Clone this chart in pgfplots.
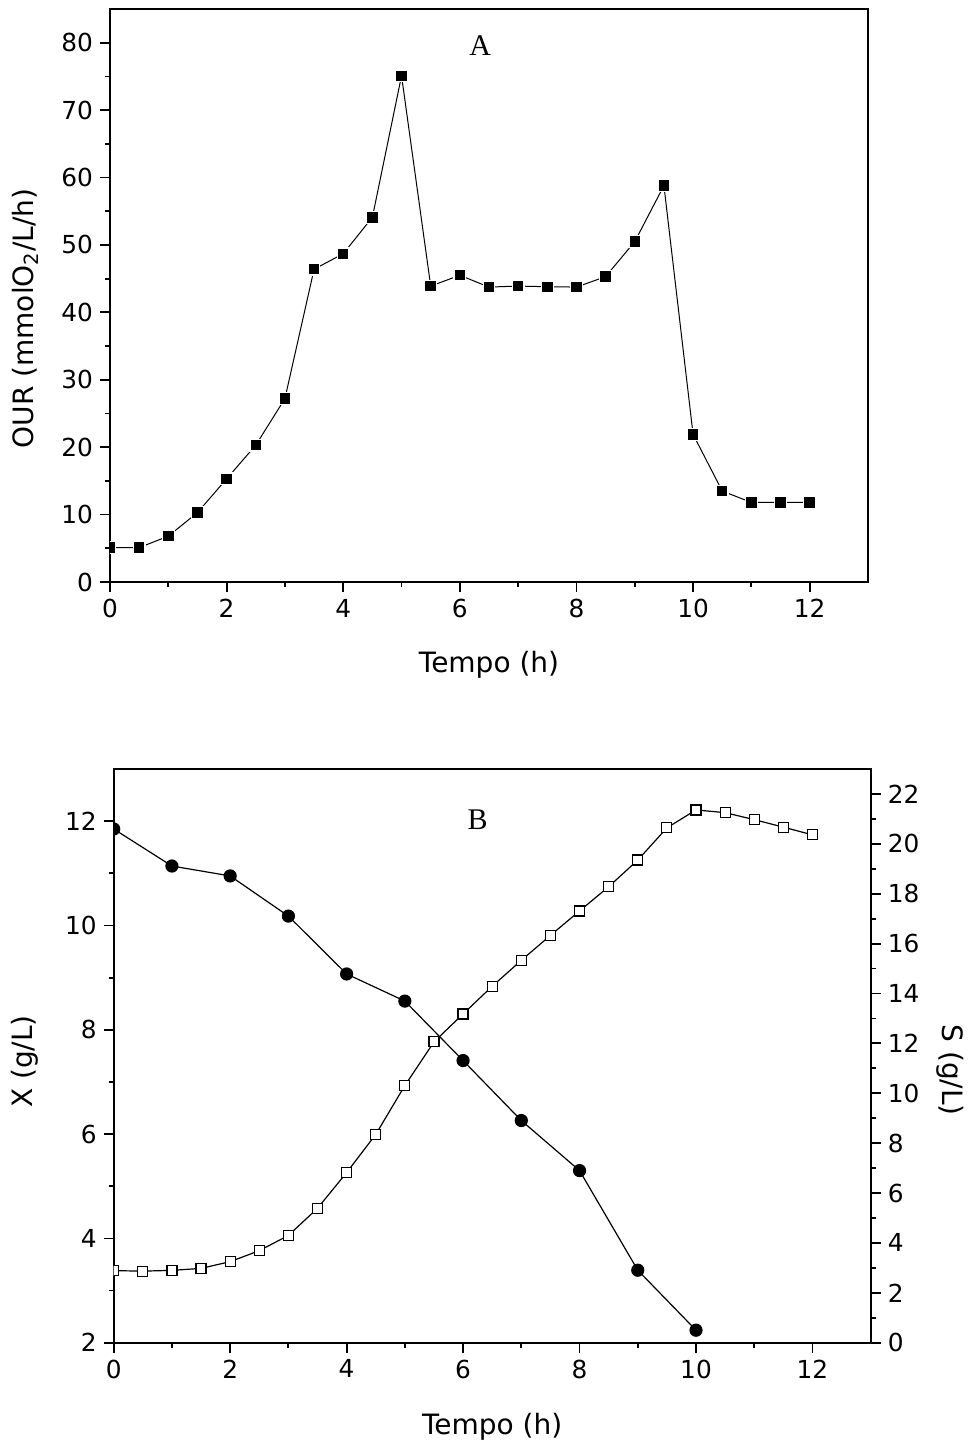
\documentclass[border=0pt]{standalone}
\usepackage{pgfplots}
\pgfplotsset{compat=1.18}
\usepackage{fontspec}
\setmainfont{DejaVu Sans}
\newfontfamily\timesf{Liberation Serif}

\pgfplotsset{
 myaxis/.style={
  scale only axis,
  xmin=0,xmax=13,
  xtick={0,2,...,12},
  minor x tick num=1,
  tick align=outside,
  major tick length=5pt, minor tick length=2.5pt,
  axis line style={line width=1pt},
  tick style={line width=0.9pt, black},
  tick label style={font=\fontsize{12.4}{14}\selectfont},
  label style={font=\fontsize{14}{16}\selectfont},
  /pgf/number format/assume math mode=true,
  clip marker paths=true,
 }
}

\begin{document}
\begin{tikzpicture}
\path[use as bounding box] (0,0) rectangle (485pt,-723pt);

% Panel A
\begin{axis}[myaxis,
  at={(55pt,-291pt)}, anchor=south west,
  width=379pt, height=286.5pt,
  ymin=0, ymax=85,
  ytick={0,10,...,80}, minor y tick num=1,
  xtick pos=lower, ytick pos=left,
  xlabel={Tempo (h)},
  ylabel={OUR (mmolO\textsubscript{2}/L/h)},
  xlabel style={at={(axis description cs:0.5,0)}, anchor=center, yshift=-41.5pt},
  ylabel style={at={(axis description cs:-0.112,0.46)}, anchor=center},
]
\addplot[black, line width=0.5pt, mark=square*, mark size=2.9pt,
  mark options={fill=black, draw=white, line width=0.6pt}] coordinates {
(0,5.1) (0.5,5.1) (1,6.8) (1.5,10.3) (2,15.3) (2.5,20.3) (3,27.2)
(3.5,46.4) (4,48.7) (4.5,54.1) (5,75.1) (5.5,43.9) (6,45.5) (6.5,43.75)
(7,43.9) (7.5,43.8) (8,43.75) (8.5,45.3) (9,50.5) (9.5,58.8) (10,21.9)
(10.5,13.5) (11,11.8) (11.5,11.8) (12,11.8)
};
\node[font=\timesf\fontsize{15}{17}\selectfont] at (axis cs:6.35,79.6) {A};
\end{axis}

% Panel B, left axis (X)
\begin{axis}[myaxis,
  at={(56.85pt,-671.35pt)}, anchor=south west,
  width=378.5pt, height=286.85pt,
  ymin=2, ymax=13,
  ytick={2,4,...,12}, minor y tick num=1,
  xtick pos=lower, ytick pos=left,
  xlabel={Tempo (h)},
  ylabel={X (g/L)},
  xlabel style={at={(axis description cs:0.5,0)}, anchor=center, yshift=-42pt},
  ylabel style={at={(axis description cs:-0.117,0.49)}, anchor=center},
]
\addplot[black, line width=0.6pt, mark=*, mark size=3pt,
  mark options={fill=black, draw=black}] coordinates {
(0,11.85) (1,11.14) (2,10.95) (3,10.18) (4,9.07) (5,8.55) (6,7.41)
(7,6.26) (8,5.30) (9,3.39) (10,2.24)
};
\node[font=\timesf\fontsize{15}{17}\selectfont] at (axis cs:6.25,12.02) {B};
\end{axis}

% Panel B, right axis (S)
\begin{axis}[myaxis,
  at={(56.85pt,-671.35pt)}, anchor=south west,
  width=378.5pt, height=286.85pt,
  axis x line=none, axis y line*=right,
  ymin=0, ymax=23,
  ytick={0,2,...,22}, minor y tick num=1,
  ylabel={S (g/L)},
  ylabel style={at={(axis description cs:1.105,0.475)}, anchor=center, rotate=180},
]
\addplot[black, line width=0.6pt, mark=square*, mark size=2.5pt,
  mark options={fill=white, draw=black, line width=0.6pt}] coordinates {
(0,2.89) (0.5,2.87) (1,2.90) (1.5,2.98) (2,3.25) (2.5,3.69) (3,4.30)
(3.5,5.39) (4,6.82) (4.5,8.35) (5,10.31) (5.5,12.06) (6,13.18) (6.5,14.29)
(7,15.33) (7.5,16.33) (8,17.31) (8.5,18.28) (9,19.35) (9.5,20.64)
(10,21.36) (10.5,21.25) (11,20.97) (11.5,20.67) (12,20.36)
};
\end{axis}
\end{tikzpicture}
\end{document}
